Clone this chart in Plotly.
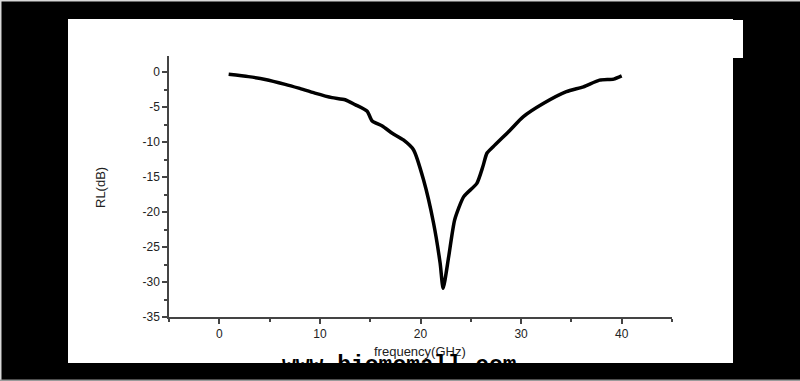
import plotly.graph_objects as go

# Data
freq = [0.93, 2.9, 4.57, 6.55, 7.9, 9.5, 11.2, 12.5, 13.5, 14.7, 15.2, 16.2, 17.15, 18.3,
        19.3, 20.3, 21.3, 21.95, 22.25, 22.8, 23.4, 24.3, 25.6, 26.2, 26.6, 27.2, 28.9,
        30.2, 32.2, 34.5, 36.2, 37.8, 39.2, 40.0]
rl = [-0.3, -0.65, -1.05, -1.75, -2.3, -3.0, -3.65, -3.95, -4.65, -5.6, -7.0, -7.7, -8.7, -9.7,
      -11.1, -15.4, -21.6, -27.3, -30.9, -26.4, -21.1, -17.8, -15.9, -13.5, -11.6, -10.7, -8.3,
      -6.4, -4.5, -2.8, -2.1, -1.15, -1.0, -0.55]

x_range = [-5, 45]
y_range = [-35, 2.3]
x_ticks = [0, 10, 20, 30, 40]
y_ticks = [0, -5, -10, -15, -20, -25, -30, -35]

W, H = 800, 381
L, R, T, B = 169, 128, 56, 64
PW, PH = W - L - R, H - T - B

def px(x):
    return (x - L) / PW

def py(y):
    return (H - B - y) / PH

fig = go.Figure()
fig.add_trace(go.Scatter(x=freq, y=rl, mode="lines",
                         line=dict(color="black", width=3.5, shape="spline", smoothing=0.6),
                         hoverinfo="skip", showlegend=False))

shapes = [
    dict(type="rect", xref="paper", yref="paper", layer="below",
         x0=px(68), x1=px(733), y0=py(363), y1=py(19),
         fillcolor="white", line=dict(width=0)),
    dict(type="rect", xref="paper", yref="paper", layer="below",
         x0=px(732), x1=px(743), y0=py(58), y1=py(20),
         fillcolor="white", line=dict(width=0)),
    dict(type="rect", xref="paper", yref="paper", layer="below",
         x0=px(0), x1=px(800), y0=py(1.5), y1=py(0),
         fillcolor="#d8d8d8", line=dict(width=0)),
    dict(type="rect", xref="paper", yref="paper", layer="below",
         x0=px(0), x1=px(1.5), y0=py(381), y1=py(0),
         fillcolor="#d8d8d8", line=dict(width=0)),
    dict(type="rect", xref="paper", yref="paper", layer="below",
         x0=px(0), x1=px(800), y0=py(381), y1=py(379.5),
         fillcolor="#9a9a9a", line=dict(width=0)),
]

annotations = [
    dict(text="RL(dB)", xref="paper", yref="paper", x=px(100), y=py(188),
         showarrow=False, textangle=-90, xanchor="center", yanchor="middle",
         font=dict(family="Liberation Sans, Arial", size=13, color="#222")),
    dict(text="frequency(GHz)", xref="paper", yref="paper", x=px(420), y=py(351),
         showarrow=False, xanchor="center", yanchor="middle",
         font=dict(family="Liberation Sans, Arial", size=13, color="#222")),
    dict(text="<b>www.biomomall.com</b>", xref="paper", yref="paper", x=px(399), y=py(366),
         showarrow=False, xanchor="center", yanchor="middle",
         font=dict(family="Liberation Mono, DejaVu Sans Mono", size=23, color="black")),
]

axis_common = dict(showline=True, linecolor="#444", linewidth=1.5, ticks="outside",
                   ticklen=5, tickwidth=1.5, tickcolor="#444", showgrid=False, zeroline=False,
                   tickfont=dict(family="Liberation Sans, Arial", size=12, color="#222"),
                   mirror=False)

fig.update_layout(
    width=W, height=H,
    margin=dict(l=L, r=R, t=T, b=B),
    paper_bgcolor="black", plot_bgcolor="rgba(0,0,0,0)",
    shapes=shapes, annotations=annotations,
    xaxis=dict(range=x_range, tickvals=x_ticks, ticktext=[str(v) for v in x_ticks],
               minor=dict(dtick=5, ticks="outside", ticklen=3, tickcolor="#444", tickwidth=1.5),
               **axis_common),
    yaxis=dict(range=y_range, tickvals=y_ticks, ticktext=[str(v) for v in y_ticks],
               minor=dict(dtick=2.5, ticks="outside", ticklen=3, tickcolor="#444", tickwidth=1.5),
               **axis_common),
)

fig.write_html("out.html")
